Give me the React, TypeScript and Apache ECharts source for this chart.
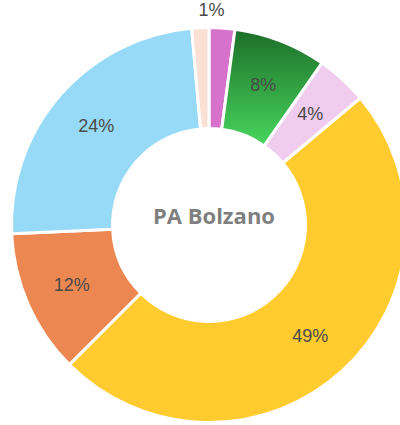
import React, { useEffect, useRef } from "react";
import * as echarts from "echarts";

const categories = ["Cat. A", "Cat. B", "Cat. C", "Cat. D", "Cat. E", "Cat. F", "Cat. G"];
const values = [2.1, 7.6, 4.2, 48.6, 11.8, 24.3, 1.4];
const colors = ["#D672CB", "green", "#F0CDEE", "#FFCB2F", "#EC8751", "#97DAF7", "#FBE0D6"];
const hiddenLabels = [true, false, false, false, false, false, false];
const centerTitle = "PA Bolzano";

export default function App() {
  const ref = useRef<HTMLDivElement>(null);
  useEffect(() => {
    if (!ref.current) return;
    const chart = echarts.init(ref.current, null, { renderer: "svg" });
    const data = categories.map((name, i) => {
      const color =
        colors[i] === "green"
          ? new echarts.graphic.LinearGradient(0, 0, 0, 1, [
              { offset: 0, color: "#1D6E29" },
              { offset: 1, color: "#48D65D" },
            ])
          : colors[i];
      const item: any = { name, value: values[i], itemStyle: { color } };
      if (hiddenLabels[i]) item.label = { show: false };
      if (i === categories.length - 1) {
        item.label = { show: true, position: "inside", offset: [9, -65] };
      }
      return item;
    });
    chart.setOption({
      animation: false,
      graphic: [
        {
          type: "text",
          x: 214,
          y: 215,
          style: {
            text: centerTitle,
            font: 'bold 22px "Open Sans"',
            fill: "#7F7F7F",
            textAlign: "center",
            textVerticalAlign: "middle",
          },
        },
      ],
      series: [
        {
          type: "pie",
          center: [209, 225],
          radius: [96.5, 197.5],
          startAngle: 90,
          clockwise: true,
          avoidLabelOverlap: false,
          itemStyle: { borderColor: "#ffffff", borderWidth: 3 },
          label: {
            show: true,
            position: "inside",
            formatter: (p: any) => Math.round(p.percent) + "%",
            color: "#4A4A4A",
            fontSize: 18,
            fontFamily: '"Liberation Sans", Arial, sans-serif',
          },
          labelLine: { show: false },
          emphasis: { disabled: true },
          data,
        },
      ],
    });
    return () => chart.dispose();
  }, []);
  return (
    <div
      ref={ref}
      style={{ position: "absolute", left: 0, top: 0, width: 400, height: 425 }}
    />
  );
}
